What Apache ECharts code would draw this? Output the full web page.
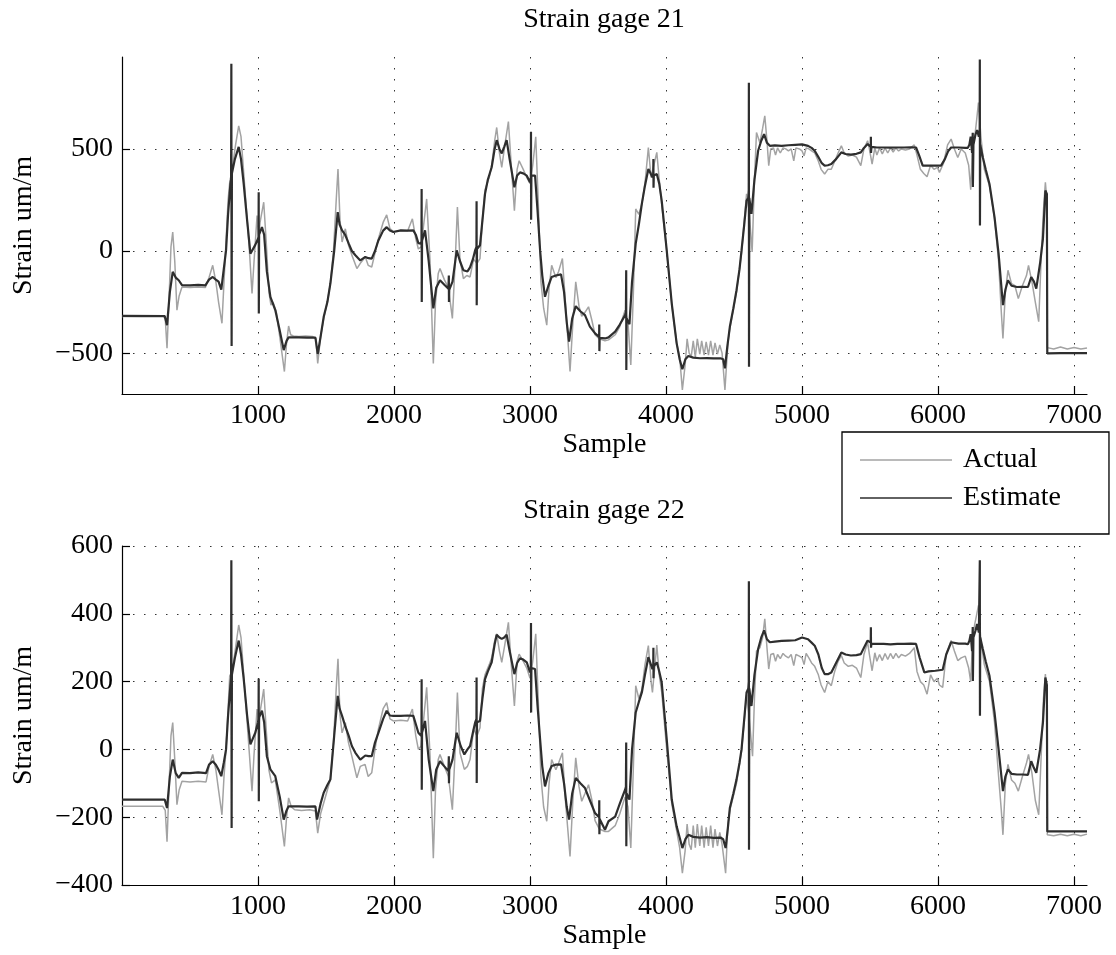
<!DOCTYPE html>
<html><head><meta charset="utf-8">
<script src="https://cdn.jsdelivr.net/npm/echarts@6/dist/echarts.min.js"></script>
<style>html,body{margin:0;padding:0;background:#fff}#c{width:1116px;height:955px}</style>
</head><body><div id="c"></div>
<script>
const titles = ['Strain gage 21', 'Strain gage 22'];
const xTicks = [1000, 2000, 3000, 4000, 5000, 6000, 7000];
const yTicks21 = [-500, 0, 500];
const yTicks22 = [-400, -200, 0, 200, 400, 600];

const actual21 = [[0,-320],[150,-322],[300,-320],[318,-330],[331,-476],[345,-250],[360,20],[373,93],[388,-50],[404,-290],[420,-220],[441,-176],[500,-178],[560,-176],[613,-178],[640,-130],[667,-70],[690,-150],[710,-250],[735,-354],[750,-150],[765,50],[780,250],[792,337],[810,400],[835,520],[858,613],[875,560],[895,380],[915,200],[935,20],[956,-208],[970,-60],[993,174],[1005,60],[1015,140],[1042,239],[1060,50],[1080,-200],[1095,-265],[1110,-250],[1135,-300],[1160,-420],[1194,-590],[1210,-450],[1225,-367],[1240,-410],[1260,-416],[1300,-418],[1350,-416],[1400,-418],[1425,-430],[1439,-550],[1460,-420],[1483,-330],[1510,-250],[1532,-159],[1555,0],[1575,250],[1588,402],[1603,150],[1618,44],[1642,109],[1665,30],[1690,-20],[1727,-86],[1752,-60],[1789,-29],[1810,-70],[1836,-78],[1860,-10],[1885,60],[1920,140],[1946,177],[1970,110],[1995,95],[2050,100],[2100,98],[2135,158],[2160,60],[2179,10],[2199,20],[2240,255],[2265,-50],[2289,-550],[2305,-250],[2325,-110],[2338,-86],[2370,-140],[2400,-180],[2429,-330],[2450,-50],[2466,215],[2485,-40],[2510,-135],[2535,-120],[2559,-127],[2585,-40],[2610,-60],[2632,-37],[2650,150],[2669,300],[2700,360],[2718,420],[2740,540],[2755,605],[2775,480],[2792,410],[2815,520],[2841,634],[2862,420],[2885,198],[2905,400],[2920,442],[2950,400],[2976,360],[3000,330],[3020,420],[3042,559],[3060,250],[3080,-150],[3100,-280],[3123,-363],[3140,-180],[3159,-70],[3190,-130],[3210,-100],[3238,-37],[3260,-250],[3294,-590],[3315,-350],[3336,-151],[3360,-270],[3380,-320],[3404,-300],[3430,-273],[3455,-340],[3478,-410],[3510,-430],[3551,-440],[3577,-435],[3626,-410],[3660,-370],[3699,-290],[3720,-350],[3741,-558],[3760,-200],[3777,206],[3800,180],[3822,230],[3845,330],[3870,507],[3890,360],[3907,410],[3932,483],[3950,350],[3968,230],[4005,0],[4042,-260],[4078,-450],[4100,-520],[4120,-680],[4140,-560],[4155,-430],[4170,-500],[4185,-517],[4200,-440],[4215,-520],[4230,-430],[4248,-505],[4262,-440],[4280,-510],[4295,-445],[4312,-510],[4328,-440],[4345,-510],[4360,-450],[4378,-505],[4395,-460],[4412,-500],[4433,-680],[4455,-450],[4469,-380],[4518,-200],[4555,-10],[4592,280],[4610,200],[4633,-5],[4650,350],[4665,580],[4690,530],[4710,600],[4726,662],[4742,540],[4755,418],[4770,500],[4790,505],[4805,470],[4820,505],[4840,480],[4860,505],[4880,500],[4900,490],[4920,500],[4939,442],[4955,505],[4980,500],[5000,490],[5015,466],[5030,505],[5050,500],[5070,490],[5093,480],[5120,440],[5140,400],[5166,377],[5190,400],[5215,400],[5240,440],[5265,480],[5289,515],[5310,480],[5340,465],[5370,470],[5400,460],[5432,418],[5455,500],[5482,540],[5495,500],[5515,426],[5535,505],[5550,470],[5570,505],[5590,475],[5610,505],[5630,480],[5650,505],[5670,485],[5690,505],[5710,490],[5730,500],[5760,495],[5790,500],[5825,520],[5845,470],[5870,400],[5895,380],[5919,364],[5945,420],[5970,400],[5995,410],[6010,385],[6040,430],[6070,520],[6096,548],[6120,500],[6145,458],[6170,500],[6200,480],[6225,420],[6240,300],[6255,520],[6270,560],[6285,650],[6297,727],[6315,560],[6340,400],[6378,320],[6415,160],[6445,-50],[6465,-300],[6477,-428],[6495,-200],[6514,-94],[6540,-160],[6565,-170],[6590,-233],[6620,-170],[6650,-120],[6665,-70],[6690,-150],[6715,-250],[6740,-346],[6760,0],[6775,200],[6789,337],[6800,250],[6803,-473],[6850,-480],[6900,-470],[6950,-480],[7000,-472],[7050,-480],[7095,-475]];

const estimate21 = [[0,-317],[314,-318],[331,-363],[352,-200],[373,-102],[395,-130],[417,-143],[441,-167],[500,-168],[560,-166],[613,-168],[640,-140],[667,-127],[690,-140],[710,-150],[730,-189],[748,-90],[765,3],[780,180],[797,328],[802,350],[804,917],[806,-465],[808,380],[830,450],[858,510],[875,450],[895,328],[920,150],[944,-13],[956,-21],[980,30],[1000,60],[1004,70],[1005,288],[1006,-306],[1008,80],[1029,117],[1045,80],[1065,-100],[1091,-224],[1127,-289],[1160,-390],[1189,-485],[1210,-440],[1225,-423],[1300,-423],[1360,-424],[1422,-424],[1439,-504],[1460,-420],[1483,-322],[1510,-250],[1532,-159],[1560,0],[1586,190],[1600,130],[1618,101],[1640,80],[1667,36],[1690,0],[1716,-21],[1752,-46],[1789,-29],[1812,-35],[1836,-37],[1860,0],[1885,52],[1920,100],[1946,117],[1970,100],[1995,93],[2050,101],[2100,100],[2142,101],[2160,80],[2179,39],[2199,36],[2202,50],[2203,304],[2204,-249],[2206,50],[2228,101],[2255,-50],[2289,-281],[2310,-180],[2338,-143],[2370,-165],[2400,-184],[2403,-120],[2404,-250],[2406,-190],[2430,-150],[2461,3],[2485,-50],[2510,-94],[2540,-100],[2559,-80],[2580,-40],[2596,3],[2606,20],[2607,244],[2608,-265],[2610,10],[2632,28],[2650,150],[2669,280],[2690,350],[2718,410],[2740,500],[2755,543],[2775,500],[2792,478],[2810,510],[2828,543],[2850,450],[2885,312],[2905,370],[2926,385],[2950,380],[2976,369],[3000,337],[3006,360],[3007,584],[3008,153],[3010,370],[3037,369],[3055,200],[3074,3],[3090,-120],[3110,-224],[3135,-170],[3159,-127],[3190,-120],[3228,-114],[3250,-200],[3270,-350],[3287,-444],[3310,-330],[3336,-270],[3370,-295],[3404,-314],[3440,-370],[3478,-403],[3508,-420],[3509,-360],[3510,-490],[3512,-425],[3551,-428],[3577,-423],[3626,-395],[3660,-360],[3699,-314],[3705,-300],[3707,-94],[3708,-582],[3710,-330],[3731,-358],[3750,-150],[3777,36],[3800,130],[3822,231],[3845,320],[3870,402],[3900,361],[3906,380],[3907,450],[3908,310],[3910,370],[3932,377],[3950,330],[3968,247],[4005,3],[4042,-257],[4078,-452],[4100,-530],[4120,-579],[4142,-530],[4164,-514],[4200,-522],[4250,-525],[4300,-524],[4350,-526],[4400,-525],[4420,-530],[4433,-574],[4450,-470],[4469,-371],[4495,-280],[4518,-192],[4540,-90],[4555,3],[4575,130],[4592,247],[4605,260],[4608,300],[4609,824],[4610,-566],[4612,260],[4628,182],[4650,350],[4677,491],[4700,540],[4721,572],[4742,530],[4763,515],[4800,517],[4850,515],[4900,518],[4950,520],[5000,522],[5044,515],[5070,505],[5093,491],[5120,460],[5145,430],[5166,418],[5190,420],[5215,426],[5250,450],[5289,483],[5320,475],[5359,472],[5400,476],[5432,483],[5455,505],[5482,524],[5505,510],[5506,560],[5507,480],[5510,510],[5550,507],[5600,507],[5650,506],[5700,507],[5750,507],[5800,508],[5838,507],[5860,470],[5887,418],[5920,418],[5970,418],[6022,418],[6050,450],[6075,490],[6096,507],[6150,507],[6200,505],[6219,505],[6230,520],[6240,560],[6250,480],[6255,579],[6256,313],[6260,520],[6275,570],[6287,592],[6300,560],[6306,580],[6307,938],[6308,125],[6310,520],[6329,459],[6350,400],[6378,328],[6415,166],[6445,-13],[6477,-265],[6495,-190],[6514,-143],[6540,-170],[6580,-176],[6620,-175],[6661,-176],[6685,-127],[6705,-150],[6722,-184],[6750,-60],[6771,60],[6789,296],[6800,280],[6803,-501],[6900,-500],[7000,-500],[7095,-500]];

const actual22 = [[0,-168],[150,-168],[300,-168],[318,-180],[331,-272],[345,-120],[360,40],[373,79],[388,-30],[404,-163],[420,-120],[441,-94],[500,-96],[560,-94],[618,-96],[640,-50],[667,-15],[690,-60],[710,-120],[735,-193],[750,-80],[765,0],[780,120],[792,217],[810,230],[835,300],[858,367],[875,330],[895,220],[920,80],[956,-123],[970,-20],[993,119],[1005,70],[1015,110],[1042,178],[1060,60],[1080,-60],[1099,-99],[1127,-90],[1160,-180],[1194,-286],[1210,-200],[1225,-143],[1245,-170],[1270,-178],[1320,-180],[1380,-178],[1422,-182],[1439,-247],[1460,-190],[1483,-158],[1510,-120],[1532,-89],[1555,20],[1575,180],[1588,267],[1603,100],[1618,49],[1642,79],[1665,20],[1690,-20],[1727,-84],[1752,-50],[1787,-44],[1810,-80],[1836,-69],[1860,0],[1885,60],[1920,120],[1946,138],[1970,90],[1995,84],[2050,86],[2100,84],[2135,119],[2160,40],[2179,0],[2199,10],[2240,183],[2265,-20],[2289,-321],[2305,-120],[2325,-30],[2338,-15],[2370,-50],[2400,-80],[2429,-178],[2450,0],[2466,168],[2485,-10],[2517,-59],[2540,-50],[2559,-30],[2585,60],[2610,40],[2632,64],[2650,180],[2669,220],[2700,250],[2718,270],[2740,320],[2755,341],[2775,290],[2792,257],[2815,310],[2841,375],[2862,250],[2885,128],[2905,260],[2920,281],[2950,260],[2976,240],[3000,210],[3020,260],[3042,341],[3060,150],[3080,-80],[3100,-170],[3123,-212],[3140,-100],[3159,-30],[3190,-60],[3210,-40],[3238,-10],[3260,-150],[3294,-316],[3315,-150],[3336,-25],[3360,-110],[3380,-153],[3404,-130],[3430,-104],[3455,-150],[3478,-210],[3510,-235],[3551,-242],[3577,-242],[3626,-225],[3660,-190],[3699,-140],[3720,-170],[3741,-291],[3760,-50],[3777,188],[3800,150],[3822,175],[3845,250],[3870,306],[3890,200],[3900,168],[3932,308],[3950,220],[3968,170],[4005,0],[4042,-160],[4078,-240],[4100,-290],[4120,-365],[4140,-300],[4155,-220],[4170,-280],[4185,-296],[4200,-225],[4215,-290],[4230,-220],[4248,-285],[4262,-225],[4280,-290],[4295,-230],[4312,-285],[4328,-225],[4345,-290],[4360,-235],[4378,-285],[4395,-245],[4412,-280],[4438,-365],[4455,-220],[4469,-180],[4518,-100],[4555,-5],[4592,160],[4610,100],[4636,-20],[4650,150],[4665,290],[4690,300],[4710,330],[4726,385],[4742,300],[4755,237],[4770,280],[4790,283],[4805,260],[4820,280],[4840,268],[4860,283],[4880,275],[4900,270],[4920,280],[4939,247],[4955,280],[4980,275],[5000,270],[5015,250],[5030,283],[5050,270],[5070,255],[5093,245],[5120,220],[5140,190],[5166,168],[5190,200],[5215,188],[5240,230],[5265,260],[5289,277],[5310,255],[5340,245],[5370,248],[5400,240],[5432,212],[5455,280],[5482,316],[5495,280],[5515,232],[5535,285],[5550,260],[5570,280],[5590,262],[5610,283],[5630,265],[5650,283],[5670,268],[5690,283],[5710,270],[5730,280],[5760,275],[5790,283],[5825,300],[5845,230],[5870,200],[5895,190],[5919,163],[5945,220],[5970,200],[5995,210],[6010,190],[6034,183],[6060,280],[6096,321],[6120,290],[6145,262],[6170,270],[6200,275],[6225,240],[6240,200],[6255,330],[6270,370],[6285,400],[6297,425],[6315,320],[6340,250],[6378,200],[6415,80],[6445,-80],[6465,-180],[6477,-252],[6495,-100],[6514,-44],[6540,-90],[6565,-100],[6590,-123],[6620,-80],[6650,-40],[6665,-15],[6690,-70],[6715,-150],[6740,-193],[6760,0],[6775,150],[6789,222],[6800,150],[6803,-252],[6850,-255],[6900,-250],[6950,-255],[7000,-250],[7050,-255],[7095,-250]];

const estimate22 = [[0,-148],[314,-148],[331,-173],[352,-80],[373,-30],[395,-70],[417,-84],[441,-69],[500,-70],[560,-68],[618,-70],[640,-45],[667,-35],[690,-45],[710,-60],[730,-79],[748,-40],[765,0],[780,100],[797,188],[802,210],[804,558],[806,-232],[808,220],[830,270],[858,321],[875,280],[895,207],[920,100],[944,15],[956,18],[980,49],[1000,80],[1004,90],[1005,209],[1006,-153],[1008,95],[1029,114],[1045,80],[1065,-20],[1091,-59],[1127,-79],[1160,-140],[1189,-207],[1210,-180],[1225,-168],[1300,-168],[1360,-169],[1422,-168],[1434,-207],[1460,-160],[1483,-128],[1510,-105],[1532,-89],[1560,40],[1586,158],[1600,120],[1618,99],[1640,70],[1667,40],[1690,10],[1716,-10],[1752,-30],[1789,-18],[1812,-20],[1836,-20],[1860,20],[1885,49],[1920,90],[1946,114],[1970,100],[1995,99],[2050,99],[2100,100],[2142,99],[2160,75],[2179,49],[2199,40],[2202,50],[2203,207],[2204,-119],[2206,50],[2228,84],[2255,-30],[2289,-123],[2310,-60],[2338,-35],[2370,-50],[2400,-64],[2403,-20],[2404,-100],[2406,-60],[2430,-30],[2461,49],[2490,10],[2517,-15],[2540,0],[2559,10],[2580,50],[2596,79],[2606,90],[2607,212],[2608,-99],[2610,80],[2632,84],[2650,150],[2669,207],[2690,230],[2718,257],[2740,310],[2755,338],[2775,330],[2792,326],[2810,330],[2828,338],[2850,290],[2885,222],[2905,255],[2926,269],[2950,265],[2976,257],[3000,227],[3006,240],[3007,373],[3008,109],[3010,240],[3037,237],[3055,130],[3074,30],[3090,-50],[3110,-109],[3135,-70],[3159,-49],[3190,-45],[3228,-44],[3250,-100],[3270,-170],[3287,-207],[3310,-130],[3336,-84],[3370,-100],[3404,-114],[3440,-150],[3478,-188],[3508,-200],[3509,-150],[3510,-250],[3512,-205],[3551,-237],[3577,-212],[3626,-198],[3660,-160],[3699,-119],[3705,-110],[3707,20],[3708,-286],[3710,-130],[3731,-148],[3750,0],[3777,109],[3800,140],[3822,168],[3845,220],[3870,272],[3900,237],[3906,250],[3907,300],[3908,210],[3910,245],[3932,257],[3950,230],[3968,198],[4005,30],[4042,-148],[4078,-227],[4100,-260],[4120,-291],[4142,-265],[4164,-252],[4200,-258],[4250,-260],[4300,-259],[4350,-261],[4400,-260],[4420,-265],[4438,-291],[4455,-230],[4469,-173],[4495,-130],[4518,-89],[4540,-40],[4555,0],[4575,90],[4592,168],[4605,180],[4608,200],[4609,496],[4610,-296],[4612,180],[4628,128],[4650,220],[4677,296],[4700,330],[4721,351],[4742,325],[4763,316],[4800,318],[4850,320],[4900,321],[4950,322],[5000,330],[5044,325],[5070,315],[5093,306],[5120,280],[5145,240],[5166,222],[5190,222],[5215,227],[5250,255],[5289,286],[5320,280],[5359,277],[5400,278],[5432,281],[5455,300],[5482,321],[5505,315],[5506,360],[5507,300],[5510,312],[5550,311],[5600,311],[5650,310],[5700,311],[5750,311],[5800,312],[5838,311],[5865,270],[5899,227],[5930,230],[5980,232],[6034,235],[6060,280],[6096,316],[6150,312],[6200,312],[6219,310],[6230,320],[6240,340],[6250,290],[6255,361],[6256,202],[6260,330],[6275,350],[6287,370],[6300,345],[6306,350],[6307,558],[6308,99],[6310,330],[6329,296],[6350,260],[6378,217],[6415,109],[6445,0],[6477,-123],[6495,-80],[6514,-59],[6540,-72],[6580,-74],[6620,-74],[6661,-75],[6685,-35],[6705,-55],[6722,-69],[6750,0],[6771,79],[6789,212],[6800,190],[6803,-242],[6900,-242],[7000,-242],[7095,-242]];

const FONT = '"Liberation Serif", "Times New Roman", serif';
const FS = 28;
const fmt = v => String(v).replace('-', '\u2212');
const gridLine = { show: true, lineStyle: { type: [1.5, 9.5], color: '#333', width: 1 } };

function xAxis(gi) {
  return {
    type: 'value', gridIndex: gi, min: 0, max: 7095,
    name: 'Sample', nameLocation: 'middle', nameGap: 36,
    nameTextStyle: { fontFamily: FONT, fontSize: FS, color: '#000' },
    axisLine: { show: true, onZero: false, lineStyle: { color: '#000', width: 1.2 } },
    axisTick: { show: true, inside: true, length: 8, customValues: xTicks, lineStyle: { color: '#000', width: 1.2 } },
    axisLabel: { customValues: xTicks, fontFamily: FONT, fontSize: FS, color: '#000', margin: 8, formatter: v => String(v) },
    splitLine: gridLine
  };
}
function yAxis(gi, ticks, min, max) {
  return {
    type: 'value', gridIndex: gi, min: min, max: max,
    name: 'Strain um/m', nameLocation: 'middle', nameGap: 84,
    nameTextStyle: { fontFamily: FONT, fontSize: FS, color: '#000' },
    axisLine: { show: true, onZero: false, lineStyle: { color: '#000', width: 1.2 } },
    axisTick: { show: true, inside: true, length: 8, customValues: ticks, lineStyle: { color: '#000', width: 1.2 } },
    axisLabel: { customValues: ticks, fontFamily: FONT, fontSize: FS, color: '#000', margin: 9, formatter: fmt },
    splitLine: gridLine
  };
}
function line(name, data, gi, color, width) {
  return {
    name: name, type: 'line', xAxisIndex: gi, yAxisIndex: gi, data: data,
    showSymbol: false, symbol: 'none', animation: false,
    lineStyle: { color: color, width: width }, itemStyle: { color: color }
  };
}
const ACT = '#a3a3a3', EST = '#2e2e2e';
const chart = echarts.init(document.getElementById('c'), null, { renderer: 'canvas' });
chart.setOption({
  backgroundColor: '#fff',
  animation: false,
  title: [
    { text: titles[0], left: 604, top: 6, textAlign: 'center', padding: 0, textStyle: { fontFamily: FONT, fontSize: FS, fontWeight: 'normal', color: '#000' } },
    { text: titles[1], left: 604, top: 497, textAlign: 'center', padding: 0, textStyle: { fontFamily: FONT, fontSize: FS, fontWeight: 'normal', color: '#000' } }
  ],
  legend: {
    data: [
      { name: 'Actual', icon: 'rect', itemStyle: { color: ACT } },
      { name: 'Estimate', icon: 'rect', itemStyle: { color: EST } }
    ],
    orient: 'vertical', left: 842, top: 432,
    padding: [14, 48, 22, 18], itemGap: 10, itemWidth: 92, itemHeight: 1.6,
    backgroundColor: '#fff', borderColor: '#000', borderWidth: 1.3, borderRadius: 0,
    textStyle: { fontFamily: FONT, fontSize: FS, color: '#000', padding: [0, 0, 0, 6] }
  },
  grid: [
    { left: 122, top: 57, width: 965, height: 337 },
    { left: 122, top: 546, width: 965, height: 339 }
  ],
  xAxis: [xAxis(0), xAxis(1)],
  yAxis: [yAxis(0, yTicks21, -700, 950), yAxis(1, yTicks22, -400, 600)],
  series: [
    line('Actual', actual21, 0, ACT, 1.5),
    line('Estimate', estimate21, 0, EST, 2.2),
    line('Actual', actual22, 1, ACT, 1.5),
    line('Estimate', estimate22, 1, EST, 2.2)
  ]
});
</script></body></html>
